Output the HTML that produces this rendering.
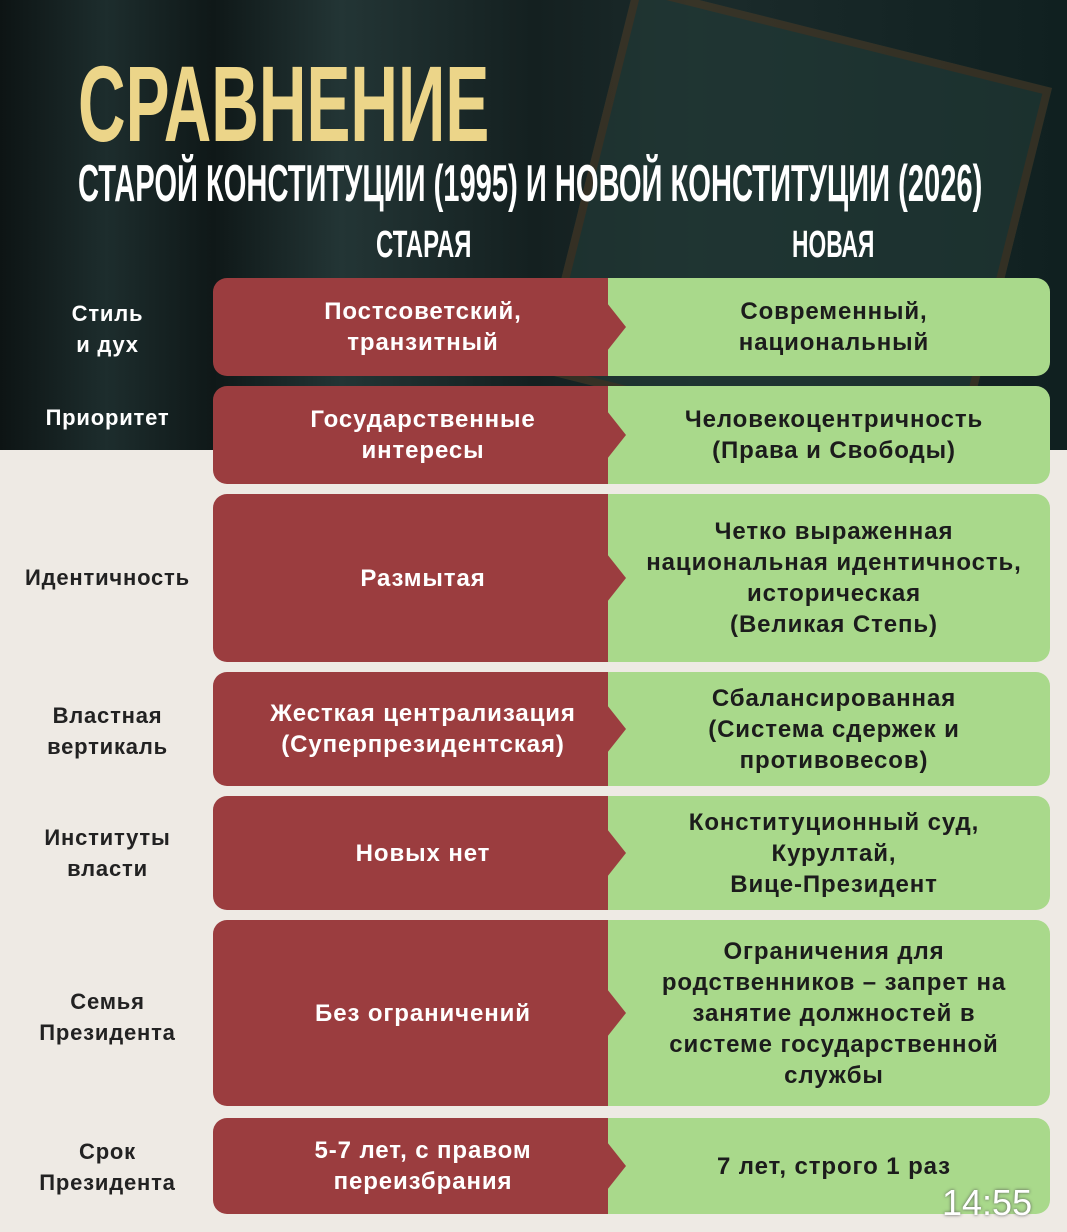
<!DOCTYPE html>
<html><head><meta charset="utf-8"><style>
*{margin:0;padding:0;box-sizing:border-box}
body{width:1067px;height:1232px;position:relative;overflow:hidden;background:#eeeae4;font-family:"Liberation Sans","DejaVu Sans",sans-serif}
.top{position:absolute;left:0;top:0;width:1067px;height:450px;overflow:hidden;background:linear-gradient(90deg,#0d1414 0%,#1d2d2d 10%,#0f1818 20%,#233535 32%,#142020 50%,#1b2b2b 65%,#102020 100%)}
.book{position:absolute;left:580px;top:30px;width:430px;height:400px;background:#233c38;transform:rotate(14deg);opacity:.6;border:8px solid #4a3a26}
.t{position:absolute;transform-origin:0 0;white-space:nowrap;font-weight:bold}
.lab{position:absolute;left:0;width:215px;text-align:center;font-size:22px;line-height:31px;font-weight:bold;letter-spacing:.8px}
.r{position:absolute;left:213px;width:420px;background:#9b3d3f;border-radius:14px 0 0 14px;color:#fff;font-size:24px;line-height:31px;text-align:center;display:flex;align-items:center;justify-content:center;font-weight:bold;letter-spacing:.9px}
.r span{width:395px}
.g{position:absolute;left:608px;width:442px;background:#a9d98b;border-radius:0 14px 14px 0;color:#1c1c1c;font-size:24px;line-height:31px;text-align:center;display:flex;align-items:center;justify-content:center;padding-left:10px;font-weight:bold;letter-spacing:.9px}
.arr{position:absolute;left:607px;width:0;height:0;border-top:24px solid transparent;border-bottom:24px solid transparent;border-left:19px solid #9b3d3f}
</style></head><body>
<div class="top"><div class="book"></div></div>
<div class="t" style="left:78px;top:41px;font-size:108px;color:#ecd589;transform:scaleX(.61)">СРАВНЕНИЕ</div>
<div class="t" style="left:78px;top:154px;font-size:52px;color:#fff;transform:scaleX(.56)">СТАРОЙ КОНСТИТУЦИИ (1995) И НОВОЙ КОНСТИТУЦИИ (2026)</div>
<div class="t" style="left:376px;top:224px;font-size:38px;color:#fff;transform:scaleX(.63)">СТАРАЯ</div>
<div class="t" style="left:792px;top:224px;font-size:38px;color:#fff;transform:scaleX(.6)">НОВАЯ</div>

<div class="lab" style="top:298px;color:#fff">Стиль<br>и дух</div>
<div class="r" style="top:278px;height:98px"><span>Постсоветский,<br>транзитный</span></div>
<div class="g" style="top:278px;height:98px">Современный,<br>национальный</div>
<div class="arr" style="top:303px"></div>

<div class="lab" style="top:402px;color:#fff">Приоритет</div>
<div class="r" style="top:386px;height:98px"><span>Государственные<br>интересы</span></div>
<div class="g" style="top:386px;height:98px">Человекоцентричность<br>(Права и Свободы)</div>
<div class="arr" style="top:411px"></div>

<div class="lab" style="top:562px;color:#222">Идентичность</div>
<div class="r" style="top:494px;height:168px"><span>Размытая</span></div>
<div class="g" style="top:494px;height:168px">Четко выраженная<br>национальная идентичность,<br>историческая<br>(Великая Степь)</div>
<div class="arr" style="top:554px"></div>

<div class="lab" style="top:700px;color:#222">Властная<br>вертикаль</div>
<div class="r" style="top:672px;height:114px"><span>Жесткая централизация<br>(Суперпрезидентская)</span></div>
<div class="g" style="top:672px;height:114px">Сбалансированная<br>(Система сдержек и<br>противовесов)</div>
<div class="arr" style="top:705px"></div>

<div class="lab" style="top:822px;color:#222">Институты<br>власти</div>
<div class="r" style="top:796px;height:114px"><span>Новых нет</span></div>
<div class="g" style="top:796px;height:114px">Конституционный суд,<br>Курултай,<br>Вице-Президент</div>
<div class="arr" style="top:829px"></div>

<div class="lab" style="top:986px;color:#222">Семья<br>Президента</div>
<div class="r" style="top:920px;height:186px"><span>Без ограничений</span></div>
<div class="g" style="top:920px;height:186px">Ограничения для<br>родственников – запрет на<br>занятие должностей в<br>системе государственной<br>службы</div>
<div class="arr" style="top:989px"></div>

<div class="lab" style="top:1136px;color:#222">Срок<br>Президента</div>
<div class="r" style="top:1118px;height:96px"><span>5-7 лет, с правом<br>переизбрания</span></div>
<div class="g" style="top:1118px;height:96px">7 лет, строго 1 раз</div>
<div class="arr" style="top:1142px"></div>
<div style="position:absolute;left:942px;top:1182px;font-size:36px;color:#fff;text-shadow:0 0 3px #555">14:55</div>
</body></html>
